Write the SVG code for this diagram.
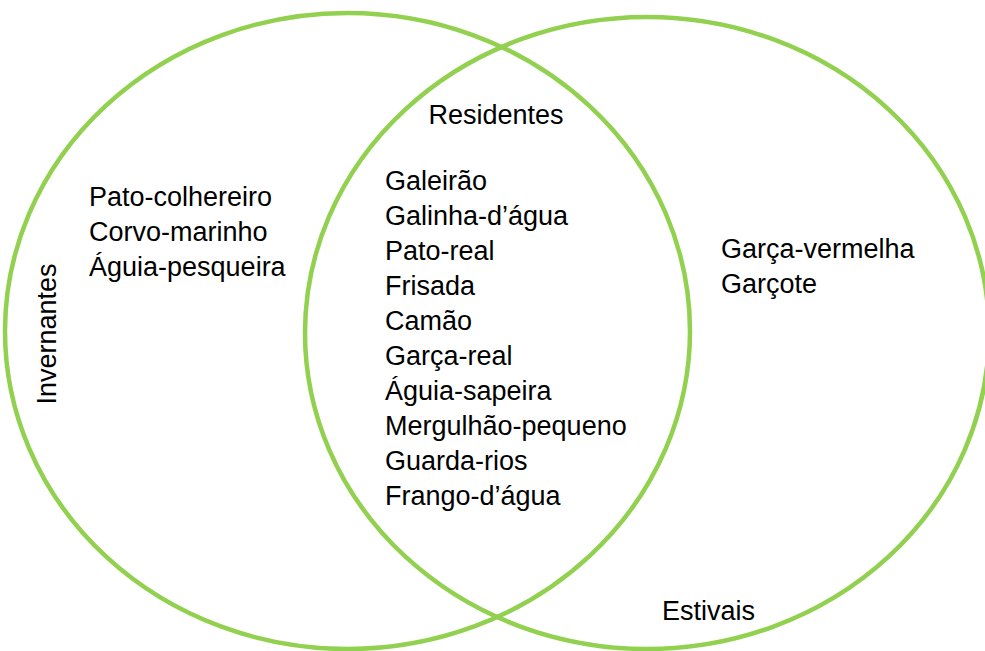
<svg xmlns="http://www.w3.org/2000/svg" width="985" height="651" viewBox="0 0 985 651">
<style>
.ring{fill:none;stroke:#92D050;stroke-width:4.5}
text{font-family:"Liberation Sans",Arial,sans-serif;font-size:27px;fill:#000}
</style>
<rect width="985" height="651" fill="#fff"/>
<g id="invernantes">
<ellipse class="ring" cx="347.5" cy="331" rx="342.5" ry="318"/>
<text transform="translate(56,334) rotate(-90)" text-anchor="middle">Invernantes</text>
<text x="89" y="206">Pato-colhereiro</text>
<text x="89" y="241">Corvo-marinho</text>
<text x="89" y="276">Águia-pesqueira</text>
</g>
<g id="estivais">
<ellipse class="ring" cx="647" cy="333" rx="342" ry="316"/>
<text x="662" y="620">Estivais</text>
<text x="721" y="258">Garça-vermelha</text>
<text x="721" y="293">Garçote</text>
</g>
<g id="residentes">
<text x="496" y="124" text-anchor="middle">Residentes</text>
<text x="385" y="190">Galeirão</text>
<text x="385" y="225">Galinha-d’água</text>
<text x="385" y="260">Pato-real</text>
<text x="385" y="295">Frisada</text>
<text x="385" y="330">Camão</text>
<text x="385" y="365">Garça-real</text>
<text x="385" y="400">Águia-sapeira</text>
<text x="385" y="435">Mergulhão-pequeno</text>
<text x="385" y="470">Guarda-rios</text>
<text x="385" y="505">Frango-d’água</text>
</g>
<g id="connectors"></g>
</svg>
